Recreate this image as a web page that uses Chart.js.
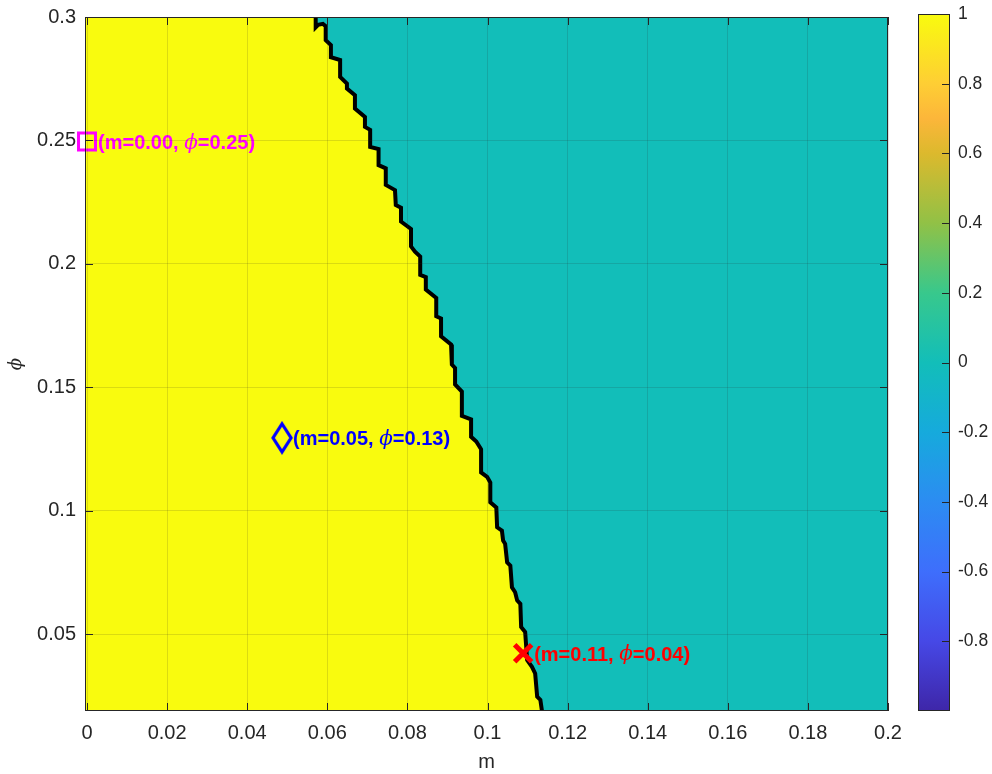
<!DOCTYPE html>
<html lang="en">
<head>
<meta charset="UTF-8">
<title>m - phi region map</title>
<script src="https://cdn.jsdelivr.net/npm/chart.js@4.4.1/dist/chart.umd.min.js"></script>
<style>
    body { margin: 0; background: #fff; }
    #wrap { position: relative; width: 992px; height: 774px; }
    #mainChart { position: absolute; left: 0; top: 0; }
    #barChart { position: absolute; left: 900px; top: 0; }
</style>
</head>
<body>
<div id="wrap">
    <canvas id="mainChart" width="992" height="774"></canvas>
    <canvas id="barChart" width="92" height="774"></canvas>
</div>
<script>
// axis limits and ticks
const xRange = [-0.0005, 0.2];
const yRange = [0.019, 0.3];
const xTicks = [0, 0.02, 0.04, 0.06, 0.08, 0.1, 0.12, 0.14, 0.16, 0.18, 0.2];
const yTicks = [0.05, 0.1, 0.15, 0.2, 0.25, 0.3];
const cbRange = [-1, 1];
const cbTicks = [-0.8, -0.6, -0.4, -0.2, 0, 0.2, 0.4, 0.6, 0.8, 1];

// region values (left of boundary / right of boundary)
const regionValue = [1, 0];

// contour between the two regions
const boundaryM = [0.0571, 0.0571, 0.0577, 0.0589, 0.0596, 0.0596, 0.0609, 0.0609, 0.0632, 0.0632,
    0.0649, 0.0649, 0.0669, 0.0669, 0.0694, 0.0694, 0.0707, 0.0707, 0.0728, 0.0728,
    0.0746, 0.0746, 0.0769, 0.0771, 0.0784, 0.0784, 0.0809, 0.0809, 0.0819, 0.0832,
    0.0832, 0.0846, 0.0846, 0.0872, 0.0872, 0.0884, 0.0884, 0.0909, 0.0911, 0.0919,
    0.0919, 0.0936, 0.0936, 0.0959, 0.0959, 0.0972, 0.0984, 0.0984, 0.0999, 0.1007,
    0.1007, 0.1022, 0.1024, 0.1036, 0.1039, 0.1044, 0.1049, 0.1057, 0.1061, 0.1069,
    0.1074, 0.1082, 0.1084, 0.1094, 0.1099, 0.1111, 0.1119, 0.1124, 0.1132, 0.1136];
const boundaryPhi = [0.3, 0.2958, 0.2968, 0.2972, 0.2963, 0.2906, 0.2886, 0.2837, 0.2826, 0.2757,
    0.2730, 0.2710, 0.2683, 0.2629, 0.2595, 0.2555, 0.2543, 0.2474, 0.2465, 0.2400,
    0.2387, 0.2320, 0.2299, 0.2239, 0.2228, 0.2172, 0.2142, 0.2071, 0.2050, 0.2030,
    0.1956, 0.1947, 0.1896, 0.1862, 0.1788, 0.1779, 0.1707, 0.1674, 0.1593, 0.1579,
    0.1512, 0.1483, 0.1385, 0.1371, 0.1300, 0.1281, 0.1250, 0.1156, 0.1138, 0.1115,
    0.1035, 0.1014, 0.0934, 0.0920, 0.0880, 0.0867, 0.0792, 0.0779, 0.0691, 0.0671,
    0.0638, 0.0624, 0.0530, 0.0510, 0.0396, 0.0369, 0.0342, 0.0248, 0.0235, 0.019];

// marked points
const markerM = [0, 0.0487, 0.1089];
const markerPhi = [0.2496, 0.1296, 0.0424];
const labelM = ['0.00', '0.05', '0.11'];
const labelPhi = ['0.25', '0.13', '0.04'];
const markerColors = ['#FF00FF', '#0000FF', '#FF0000'];

// parula-like colour map stops
const parulaStops = [
    [0.0, [62, 38, 168]],
    [0.1, [70, 72, 230]],
    [0.2, [62, 110, 252]],
    [0.3, [44, 140, 242]],
    [0.4, [22, 170, 220]],
    [0.5, [18, 190, 185]],
    [0.6, [56, 200, 140]],
    [0.7, [145, 193, 70]],
    [0.8, [220, 185, 45]],
    [0.85, [252, 182, 58]],
    [0.9, [254, 206, 52]],
    [1.0, [249, 251, 14]]
];

function parula(v) {
    const t = (v - cbRange[0]) / (cbRange[1] - cbRange[0]);
    for (let i = 1; i < parulaStops.length; i++) {
        const [t1, c1] = parulaStops[i];
        const [t0, c0] = parulaStops[i - 1];
        if (t <= t1) {
            const f = (t - t0) / (t1 - t0);
            const c = c0.map((a, k) => Math.round(a + (c1[k] - a) * f));
            return 'rgb(' + c.join(',') + ')';
        }
    }
    return 'rgb(' + parulaStops[parulaStops.length - 1][1].join(',') + ')';
}

const axisColor = '#262626';
const gridColor = 'rgba(38,38,38,0.15)';
const tickFont = { family: '"Liberation Sans", Arial, sans-serif', size: 20 };
const boundary = boundaryM.map((m, i) => ({ x: m, y: boundaryPhi[i] }));

// no automatic label overhang padding, the layout padding decides the box
function noPad(s) {
    s.paddingTop = 0; s.paddingBottom = 0; s.paddingLeft = 0; s.paddingRight = 0;
}

function diamondIcon(w, h, color, lw) {
    const c = document.createElement('canvas');
    c.width = w + lw * 2;
    c.height = h + lw * 2;
    const g = c.getContext('2d');
    const cx = c.width / 2, cy = c.height / 2;
    g.strokeStyle = color;
    g.lineWidth = lw;
    g.beginPath();
    g.moveTo(cx, cy - h / 2);
    g.lineTo(cx + w / 2, cy);
    g.lineTo(cx, cy + h / 2);
    g.lineTo(cx - w / 2, cy);
    g.closePath();
    g.stroke();
    return c;
}

// box around the axes with inward tick marks
function boxPlugin(sides) {
    return {
        id: 'box',
        afterDraw(chart) {
            const { ctx, chartArea: a, scales } = chart;
            const len = 8;
            ctx.save();
            ctx.strokeStyle = axisColor;
            ctx.lineWidth = 1;
            ctx.strokeRect(a.left + 0.5, a.top + 0.5, a.right - a.left - 1, a.bottom - a.top - 1);
            ctx.beginPath();
            if (sides.includes('x')) {
                scales.x.ticks.forEach(t => {
                    const px = Math.round(scales.x.getPixelForValue(t.value)) + 0.5;
                    ctx.moveTo(px, a.bottom); ctx.lineTo(px, a.bottom - len);
                    ctx.moveTo(px, a.top); ctx.lineTo(px, a.top + len);
                });
            }
            if (sides.includes('y') || sides.includes('r')) {
                scales.y.ticks.forEach(t => {
                    const py = Math.round(scales.y.getPixelForValue(t.value)) + 0.5;
                    if (sides.includes('y')) { ctx.moveTo(a.left, py); ctx.lineTo(a.left + len, py); }
                    ctx.moveTo(a.right, py); ctx.lineTo(a.right - len, py);
                });
            }
            ctx.stroke();
            ctx.restore();
        }
    };
}

const labelPlugin = {
    id: 'markerLabels',
    afterDatasetsDraw(chart) {
        const { ctx, scales: { x, y } } = chart;
        const bold = 'bold 20px "Liberation Sans", Arial, sans-serif';
        const phiFont = 'italic 20px "DejaVu Serif", serif';
        ctx.save();
        ctx.textBaseline = 'middle';
        markerM.forEach((m, i) => {
            let px = x.getPixelForValue(m) + 11;
            const py = y.getPixelForValue(markerPhi[i]) + 2;
            ctx.fillStyle = markerColors[i];
            const parts = [['(m=' + labelM[i] + ', ', bold], ['\u03D5', phiFont], ['=' + labelPhi[i] + ')', bold]];
            parts.forEach(([t, f]) => {
                ctx.font = f;
                ctx.fillText(t, px, py);
                px += ctx.measureText(t).width;
            });
        });
        ctx.restore();
    }
};

new Chart(document.getElementById('mainChart'), {
    type: 'scatter',
    data: {
        datasets: [
            {
                data: [{ x: markerM[0], y: markerPhi[0] }],
                pointStyle: 'rect', pointRadius: 12, borderWidth: 3,
                borderColor: markerColors[0], backgroundColor: 'transparent',
                clip: false, order: 0
            },
            {
                data: [{ x: markerM[1], y: markerPhi[1] }],
                pointStyle: diamondIcon(18, 28, markerColors[1], 3.2),
                clip: false, order: 0
            },
            {
                data: [{ x: markerM[2], y: markerPhi[2] }],
                pointStyle: 'crossRot', pointRadius: 12, borderWidth: 5,
                borderColor: markerColors[2], clip: false, order: 0
            },
            {
                data: boundary, showLine: true, pointRadius: 0,
                borderColor: '#000000', borderWidth: 4, fill: false, order: 1
            },
            {
                data: [{ x: xRange[0], y: yRange[1] }].concat(boundary),
                showLine: true, pointRadius: 0, borderWidth: 0, borderColor: 'transparent',
                backgroundColor: parula(regionValue[0]), fill: 'start', order: 2
            },
            {
                data: boundary.concat([{ x: xRange[1], y: yRange[0] }]),
                showLine: true, pointRadius: 0, borderWidth: 0, borderColor: 'transparent',
                backgroundColor: parula(regionValue[1]), fill: 'end', order: 3
            }
        ]
    },
    options: {
        responsive: false,
        animation: false,
        layout: { padding: { left: 0, top: 14, right: 104, bottom: 0 } },
        plugins: { legend: { display: false }, tooltip: { enabled: false } },
        scales: {
            x: {
                type: 'linear', min: xRange[0], max: xRange[1],
                afterBuildTicks: s => { s.ticks = xTicks.map(v => ({ value: v })); },
                afterFit: s => { s.height = 63; noPad(s); },
                grid: { color: gridColor, drawTicks: false, z: 1 },
                border: { display: false },
                ticks: { color: axisColor, font: tickFont, padding: 10, maxRotation: 0, autoSkip: false, callback: v => String(v) },
                title: { display: true, text: 'm', color: axisColor, font: { family: tickFont.family, size: 20 }, padding: { top: 0, bottom: 0 } }
            },
            y: {
                type: 'linear', min: yRange[0], max: yRange[1],
                afterBuildTicks: s => { s.ticks = yTicks.map(v => ({ value: v })); },
                afterFit: s => { s.width = 85; noPad(s); },
                grid: { color: gridColor, drawTicks: false, z: 1 },
                border: { display: false },
                ticks: { color: axisColor, font: tickFont, padding: 9, autoSkip: false, callback: v => String(v) },
                title: { display: true, text: '\u03D5', color: axisColor, font: { family: '"DejaVu Serif", serif', size: 18, style: 'italic' }, padding: { top: 6, bottom: 0 } }
            }
        }
    },
    plugins: [labelPlugin, boxPlugin(['x', 'y'])]
});

// colour bar
new Chart(document.getElementById('barChart'), {
    type: 'bar',
    data: {
        labels: ['c'],
        datasets: [{
            data: [cbRange],
            borderWidth: 0,
            barPercentage: 1,
            categoryPercentage: 1,
            backgroundColor: ctx => {
                const chart = ctx.chart;
                if (!chart.chartArea) return null;
                const y = chart.scales.y;
                const g = chart.ctx.createLinearGradient(0, y.getPixelForValue(cbRange[0]), 0, y.getPixelForValue(cbRange[1]));
                parulaStops.forEach(([t, c]) => g.addColorStop(t, 'rgb(' + c.join(',') + ')'));
                return g;
            }
        }]
    },
    options: {
        responsive: false,
        animation: false,
        layout: { padding: { left: 18, top: 14, right: 0, bottom: 63 } },
        plugins: { legend: { display: false }, tooltip: { enabled: false } },
        scales: {
            x: { display: false },
            y: {
                position: 'right', min: cbRange[0], max: cbRange[1],
                afterBuildTicks: s => { s.ticks = cbTicks.map(v => ({ value: v })); },
                afterFit: s => { s.width = 42; noPad(s); },
                grid: { display: false, drawTicks: false },
                border: { display: false },
                ticks: { color: axisColor, font: { family: tickFont.family, size: 17.5 }, padding: 8, autoSkip: false, callback: v => String(v) }
            }
        }
    },
    plugins: [boxPlugin(['r'])]
});
</script>
</body>
</html>
